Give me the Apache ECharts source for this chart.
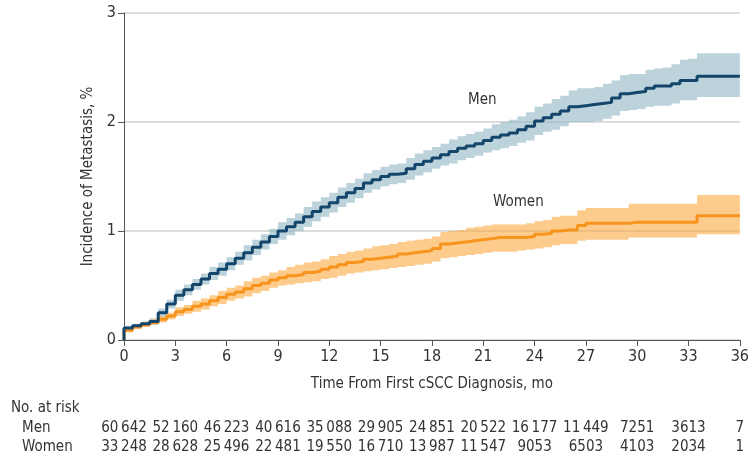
<!DOCTYPE html>
<html>
<head>
<meta charset="utf-8">
<script src="https://cdn.jsdelivr.net/npm/echarts@6/dist/echarts.min.js"></script>
<style>
  html, body { margin: 0; padding: 0; background: #fff; }
  #chart { width: 752px; height: 457px; }
</style>
</head>
<body>
<div id="chart"></div>
<script>
// months since first cSCC diagnosis (first 0 is the start before the jump)
const months = [0, 0, 0.5, 1, 1.5, 2, 2.5, 3, 3.5, 4, 4.5, 5, 5.5, 6, 6.5, 7, 7.5, 8, 8.5, 9, 9.5,
  10, 10.5, 11, 11.5, 12, 12.5, 13, 13.5, 14, 14.5, 15, 15.5, 16, 16.5, 17, 17.5, 18, 18.5, 19, 19.5,
  20, 20.5, 21, 21.5, 22, 22.5, 23, 23.5, 24, 24.5, 25, 25.5, 26, 26.5, 27, 27.5, 28, 28.5, 29, 29.5,
  30, 30.5, 31, 31.5, 32, 32.5, 33, 33.5, 34, 34.5, 35, 35.5, 36]

// Men: incidence %, lower and upper bound
const menInc = [0, 0.11, 0.13, 0.15, 0.17, 0.25, 0.33, 0.41, 0.46, 0.51, 0.56, 0.61, 0.65, 0.70, 0.75, 0.80, 0.85, 0.90, 0.95, 1.00, 1.04,
  1.08, 1.13, 1.18, 1.22, 1.26, 1.31, 1.35, 1.39, 1.44, 1.47, 1.50, 1.52, 1.53, 1.57, 1.61, 1.64, 1.67, 1.70, 1.73, 1.76,
  1.78, 1.80, 1.83, 1.86, 1.88, 1.90, 1.93, 1.96, 2.01, 2.04, 2.07, 2.10, 2.14, 2.15, 2.16, 2.17, 2.18, 2.22, 2.26, 2.27,
  2.28, 2.31, 2.33, 2.33, 2.35, 2.38, 2.38, 2.42, 2.42, 2.42, 2.42, 2.42, 2.42]
const menLow = [0, 0.09, 0.11, 0.13, 0.14, 0.21, 0.29, 0.36, 0.41, 0.46, 0.51, 0.55, 0.59, 0.64, 0.69, 0.73, 0.78, 0.83, 0.88, 0.92, 0.96,
  1.00, 1.04, 1.09, 1.13, 1.17, 1.22, 1.26, 1.30, 1.35, 1.38, 1.41, 1.43, 1.44, 1.47, 1.51, 1.54, 1.57, 1.60, 1.62, 1.65,
  1.67, 1.69, 1.72, 1.74, 1.76, 1.78, 1.81, 1.83, 1.88, 1.91, 1.93, 1.96, 2.00, 2.00, 2.00, 2.01, 2.03, 2.06, 2.10, 2.11,
  2.12, 2.14, 2.15, 2.15, 2.17, 2.20, 2.20, 2.23, 2.23, 2.23, 2.23, 2.23, 2.23]
const menHigh = [0, 0.13, 0.15, 0.17, 0.20, 0.29, 0.37, 0.46, 0.51, 0.56, 0.61, 0.67, 0.71, 0.76, 0.81, 0.87, 0.92, 0.97, 1.02, 1.08, 1.12,
  1.16, 1.22, 1.27, 1.31, 1.35, 1.40, 1.44, 1.48, 1.53, 1.56, 1.59, 1.61, 1.62, 1.67, 1.71, 1.74, 1.77, 1.80, 1.84, 1.87,
  1.89, 1.91, 1.94, 1.98, 2.00, 2.02, 2.05, 2.09, 2.14, 2.17, 2.21, 2.24, 2.29, 2.31, 2.31, 2.32, 2.35, 2.38, 2.43, 2.44,
  2.44, 2.48, 2.49, 2.50, 2.53, 2.57, 2.58, 2.63, 2.63, 2.63, 2.63, 2.63, 2.63]

// Women: incidence %, lower and upper bound
const womenInc = [0, 0.09, 0.12, 0.14, 0.16, 0.19, 0.22, 0.26, 0.28, 0.31, 0.33, 0.36, 0.39, 0.42, 0.44, 0.47, 0.50, 0.52, 0.55, 0.57, 0.59,
  0.60, 0.62, 0.63, 0.65, 0.67, 0.69, 0.71, 0.72, 0.74, 0.75, 0.76, 0.77, 0.79, 0.80, 0.81, 0.82, 0.84, 0.88, 0.89, 0.90,
  0.91, 0.92, 0.93, 0.94, 0.94, 0.94, 0.94, 0.95, 0.97, 0.98, 1.00, 1.01, 1.01, 1.05, 1.07, 1.07, 1.07, 1.07, 1.07, 1.08,
  1.08, 1.08, 1.08, 1.08, 1.08, 1.08, 1.08, 1.14, 1.14, 1.14, 1.14, 1.14, 1.14]
const womenLow = [0, 0.07, 0.10, 0.12, 0.14, 0.16, 0.19, 0.22, 0.24, 0.26, 0.28, 0.31, 0.33, 0.36, 0.38, 0.40, 0.43, 0.45, 0.48, 0.50, 0.51,
  0.52, 0.53, 0.54, 0.56, 0.57, 0.59, 0.61, 0.62, 0.63, 0.64, 0.65, 0.66, 0.67, 0.68, 0.69, 0.70, 0.72, 0.75, 0.76, 0.77,
  0.78, 0.79, 0.80, 0.81, 0.81, 0.81, 0.82, 0.83, 0.84, 0.85, 0.87, 0.88, 0.88, 0.91, 0.92, 0.92, 0.92, 0.92, 0.92, 0.94,
  0.94, 0.94, 0.94, 0.94, 0.94, 0.94, 0.94, 0.97, 0.97, 0.97, 0.97, 0.97, 0.97]
const womenHigh = [0, 0.11, 0.14, 0.16, 0.19, 0.22, 0.25, 0.30, 0.32, 0.36, 0.38, 0.41, 0.45, 0.48, 0.50, 0.54, 0.57, 0.59, 0.62, 0.64, 0.67,
  0.69, 0.71, 0.72, 0.74, 0.77, 0.79, 0.81, 0.82, 0.84, 0.86, 0.87, 0.88, 0.90, 0.91, 0.92, 0.93, 0.95, 0.99, 1.00, 1.01,
  1.03, 1.04, 1.05, 1.06, 1.06, 1.06, 1.06, 1.07, 1.09, 1.10, 1.13, 1.14, 1.14, 1.19, 1.21, 1.21, 1.21, 1.21, 1.21, 1.25,
  1.25, 1.25, 1.25, 1.25, 1.25, 1.25, 1.25, 1.33, 1.33, 1.33, 1.33, 1.33, 1.33]

// numbers at risk, every 3 months from 0 to 36
const riskMonths = [0, 3, 6, 9, 12, 15, 18, 21, 24, 27, 30, 33, 36]
const menRisk = [60642, 52160, 46223, 40616, 35088, 29905, 24851, 20522, 16177, 11449, 7251, 3613, 7]
const womenRisk = [33248, 28628, 25496, 22481, 19550, 16710, 13987, 11547, 9053, 6503, 4103, 2034, 1]

const font = '"Liberation Sans Narrow", "DejaVu Sans Condensed", "Noto Sans", sans-serif'
const txt = '#333'

const fmtRisk = function (n) {
    let s = String(n)
    if (s.length > 4) s = s.slice(0, s.length - 3) + '\u2009' + s.slice(s.length - 3)
    return s
}
const pairs = function (ys) {
    return months.map((m, i) => [m, ys[i]])
}
// stepped confidence band as one polygon, through the axis scales
const bandSeries = function (lo, hi, color) {
    return {
        type: 'custom', silent: true, z: 1, data: [[0, 0]],
        renderItem(params, api) {
            const top = [], bottom = []
            for (let i = 1; i < months.length; i++) {
                const next = i < months.length - 1 ? months[i + 1] : months[i]
                top.push(api.coord([months[i], hi[i]]), api.coord([next, hi[i]]))
                bottom.push(api.coord([months[i], lo[i]]), api.coord([next, lo[i]]))
            }
            return {
                type: 'polygon',
                shape: { points: top.concat(bottom.reverse()) },
                style: { fill: color, opacity: 0.6 }
            }
        }
    }
}
const riskAxis = function (arr, offset) {
    return {
        type: 'value', min: 0, max: 36, interval: 3, gridIndex: 0, position: 'bottom', offset: offset,
        axisLine: { show: false }, axisTick: { show: false }, splitLine: { show: false },
        axisLabel: {
            show: true, margin: 0, fontSize: 15, color: txt, fontFamily: font,
            showMinLabel: true, showMaxLabel: true,
            formatter(v) { return fmtRisk(arr[riskMonths.indexOf(v)]) }
        }
    }
}

const chart = echarts.init(document.getElementById('chart'), null, { renderer: 'canvas' })
const option = {
    animation: false,
    grid: { left: 124, right: 11, top: 13, bottom: 117 },
    xAxis: [
        {
            type: 'value', min: 0, max: 36, interval: 3,
            name: 'Time From First cSCC Diagnosis, mo', nameLocation: 'middle', nameGap: 37,
            nameTextStyle: { fontSize: 15, color: txt, fontFamily: font },
            axisLine: { lineStyle: { color: '#555', width: 1 } },
            axisTick: { show: true, length: 6, lineStyle: { color: '#555' } },
            axisLabel: { fontSize: 16, color: txt, fontFamily: font, margin: 9 },
            splitLine: { show: false }
        },
        riskAxis(menRisk, 81),
        riskAxis(womenRisk, 100)
    ],
    yAxis: {
        type: 'value', min: 0, max: 3, interval: 1,
        name: 'Incidence of Metastasis, %', nameLocation: 'middle', nameGap: 18,
        nameTextStyle: { fontSize: 15, color: txt, fontFamily: font },
        axisLine: { show: true, lineStyle: { color: '#555', width: 1 } },
        axisTick: { show: true, length: 6, lineStyle: { color: '#555' } },
        axisLabel: { fontSize: 16, color: txt, fontFamily: font, margin: 8 },
        splitLine: { show: true, lineStyle: { color: '#dcdcdc', width: 2 } }
    },
    series: [
        bandSeries(menLow, menHigh, '#8fb6c5'),
        bandSeries(womenLow, womenHigh, '#fca83f'),
        { name: 'Women', type: 'line', step: 'end', symbol: 'none', z: 3, data: pairs(womenInc), lineStyle: { color: '#f7941d', width: 3 } },
        { name: 'Men', type: 'line', step: 'end', symbol: 'none', z: 4, data: pairs(menInc), lineStyle: { color: '#14456b', width: 3 } }
    ],
    graphic: [
        { type: 'text', left: 468, top: 93, style: { text: 'Men', font: '15px ' + font, fill: txt } },
        { type: 'text', left: 493, top: 195, style: { text: 'Women', font: '15px ' + font, fill: txt } },
        { type: 'text', left: 11, top: 401, style: { text: 'No. at risk', font: '15px ' + font, fill: txt } },
        { type: 'text', left: 22, top: 421, style: { text: 'Men', font: '15px ' + font, fill: txt } },
        { type: 'text', left: 22, top: 440, style: { text: 'Women', font: '15px ' + font, fill: txt } }
    ]
}
chart.setOption(option)
</script>
</body>
</html>
